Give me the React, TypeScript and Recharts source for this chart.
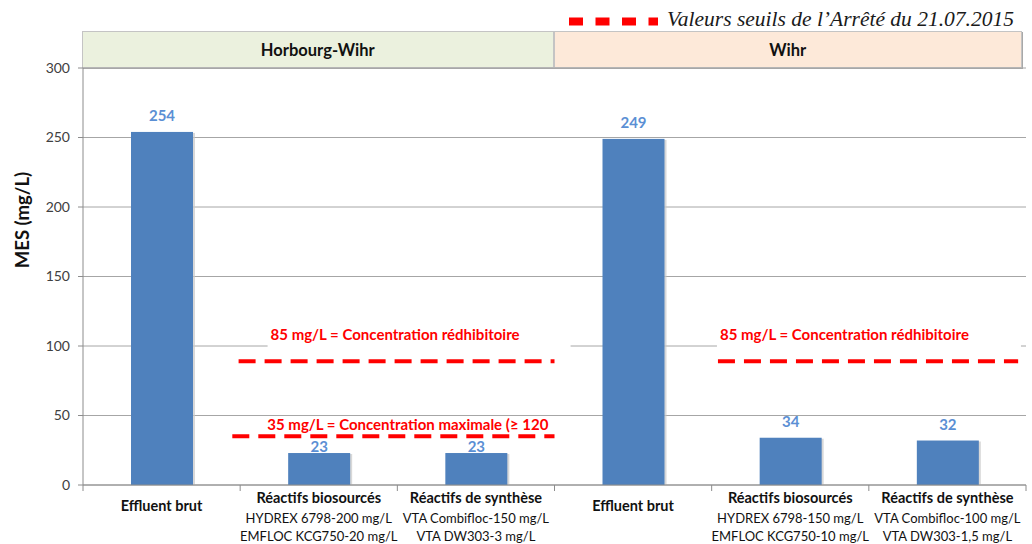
import { BarChart, Bar, XAxis, YAxis, CartesianGrid, ReferenceLine, LabelList } from 'recharts';

// categories and values
const categories = ['Effluent brut', 'Réactifs biosourcés', 'Réactifs de synthèse', 'Effluent brut', 'Réactifs biosourcés', 'Réactifs de synthèse'];
const doseLine1 = ['', 'HYDREX 6798-200 mg/L', 'VTA Combifloc-150 mg/L', '', 'HYDREX 6798-150 mg/L', 'VTA Combifloc-100 mg/L'];
const doseLine2 = ['', 'EMFLOC KCG750-20 mg/L', 'VTA DW303-3 mg/L', '', 'EMFLOC KCG750-10 mg/L', 'VTA DW303-1,5 mg/L'];
const mesValues = [254, 23, 23, 249, 34, 32];
const sites = ['Horbourg-Wihr', 'Wihr'];
const yTicks = [0, 50, 100, 150, 200, 250, 300];

// threshold segments drawn on the figure (extent in category units, 0..6)
const thresholdValues = [89, 89, 35];
const thresholdFrom = [0.99, 4.04, 0.95];
const thresholdTo = [3.0, 5.95, 3.0];
const thresholdLabels = [
  '85 mg/L = Concentration rédhibitoire',
  '85 mg/L = Concentration rédhibitoire',
  '35 mg/L = Concentration maximale (≥ 120',
];
const legendText = 'Valeurs seuils de l’Arrêté du 21.07.2015';

const W = 1032;
const H = 544;
const PLOT_LEFT = 83;
const PLOT_RIGHT = 6;
const PLOT_TOP = 68;
const X_AXIS_H = 59;
const BAND = (W - PLOT_LEFT - PLOT_RIGHT) / categories.length;
const FONT = 'Lato, "Open Sans", sans-serif';

const data = categories.map((name, i) => ({ i, name, mes: mesValues[i] }));

// pixel tweaks for the annotation texts (styling, not data)
const labelDx = [32, 2, 35];
const labelDy = [-21, -21, -6];
const labelMask = [[29, 303], [-1, 304], null];
// the two small bars had their labels pulled down onto the bar
const LOW_LABELS = new Set([1, 2]);

const CategoryTick = (props: any) => {
  const { x, y, payload } = props;
  const i = payload.value as number;
  const left = x - BAND / 2;
  const ticks = [<line key="l" x1={left} x2={left} y1={y} y2={y + 6} stroke="#8c8c8c" />];
  if (i === categories.length - 1) {
    ticks.push(<line key="r" x1={left + BAND} x2={left + BAND} y1={y} y2={y + 6} stroke="#8c8c8c" />);
  }
  const hasDose = doseLine1[i] !== '';
  return (
    <g>
      {ticks}
      <text x={x} y={y + (hasDose ? 18 : 26)} textAnchor="middle" fontFamily={FONT} fontSize={14.5} fontWeight={700} fill="#111">
        {categories[i]}
      </text>
      {hasDose && (
        <text x={x} y={y + 38} textAnchor="middle" fontFamily={FONT} fontSize={13} fill="#111">
          {doseLine1[i]}
        </text>
      )}
      {hasDose && (
        <text x={x} y={y + 56} textAnchor="middle" fontFamily={FONT} fontSize={13} fill="#111">
          {doseLine2[i]}
        </text>
      )}
    </g>
  );
};

const ShadowBar = (props: any) => {
  const { x, y, width, height } = props;
  return (
    <g>
      <rect x={x + 2} y={y + 1} width={width} height={height - 1} fill="#c8c8c8" opacity={0.7} />
      <rect x={x} y={y} width={width} height={height} fill="#4F81BD" />
    </g>
  );
};

const ValueLabel = (props: any) => {
  const { x, y, width, value, index } = props;
  const gap = LOW_LABELS.has(index) ? 1 : 11;
  return (
    <text x={x + width / 2} y={y - gap} textAnchor="middle" fontFamily={FONT} fontSize={15} fontWeight={700} fill="#5B8FD4">
      {value}
    </text>
  );
};

// horizontal reference line cut down to the part of the plot it spans in the figure
const thresholdShape = (k: number) => (props: any) => {
  const { x1, x2, y1 } = props;
  const band = (x2 - x1) / categories.length;
  const sx = x1 + thresholdFrom[k] * band;
  const ex = x1 + thresholdTo[k] * band;
  const tx = sx + labelDx[k];
  const ty = y1 + labelDy[k];
  const mask = labelMask[k];
  return (
    <g>
      <line x1={sx} x2={ex} y1={y1} y2={y1} stroke="#FF0000" strokeWidth={4} strokeDasharray="17 9" />
      {mask && <rect x={sx + mask[0]} y={ty - 15} width={mask[1]} height={22} fill="#fff" />}
      <text x={tx} y={ty} fontFamily={FONT} fontSize={15} fontWeight={700} fill="#FF0000">
        {thresholdLabels[k]}
      </text>
    </g>
  );
};

const headerStyle = (bg: string, left: number, width: number): React.CSSProperties => ({
  position: 'absolute',
  left,
  top: 31,
  width,
  height: 37,
  boxSizing: 'border-box',
  background: bg,
  border: '1px solid #C4C4C4',
  boxShadow: '1px 1px 0 #A8A8A8',
  display: 'flex',
  alignItems: 'center',
  justifyContent: 'center',
  fontFamily: FONT,
  fontWeight: 700,
  fontSize: 16.5,
  color: '#111',
});

export default function App() {
  const groupW = (W - PLOT_LEFT - PLOT_RIGHT) / sites.length;
  return (
    <div style={{ position: 'absolute', left: 0, top: 0, width: W, height: H, background: '#fff' }}>
      <div style={headerStyle('#EBF1DE', PLOT_LEFT - 1, groupW)}>{sites[0]}</div>
      <div style={headerStyle('#FDE9D9', PLOT_LEFT - 1 + groupW, groupW - 3)}>{sites[1]}</div>
      <svg style={{ position: 'absolute', left: 0, top: 0 }} width={W} height={30}>
        <line x1={569} x2={658} y1={21.5} y2={21.5} stroke="#FF0000" strokeWidth={8} strokeDasharray="14 12.5" />
        <text x={667} y={26} fontFamily='"Liberation Serif", "Times New Roman", serif' fontStyle="italic" fontSize={21.5} fill="#1a1a1a">
          {legendText}
        </text>
      </svg>
      <div style={{ position: 'absolute', left: 0, top: 0 }}>
        <BarChart
          width={W}
          height={H}
          data={data}
          margin={{ top: PLOT_TOP, right: PLOT_RIGHT, bottom: 0, left: 0 }}
          barSize={62}
        >
          <CartesianGrid vertical={false} stroke="#A6A6A6" />
          <XAxis
            dataKey="i"
            type="category"
            height={X_AXIS_H}
            axisLine={{ stroke: '#8c8c8c' }}
            tickLine={false}
            tickSize={0}
            tickMargin={0}
            interval={0}
            tick={<CategoryTick />}
          />
          <YAxis
            width={PLOT_LEFT}
            domain={[0, 300]}
            ticks={yTicks}
            interval={0}
            axisLine={{ stroke: '#8c8c8c' }}
            tickLine={{ stroke: '#8c8c8c' }}
            tickSize={5}
            tickMargin={8}
            tick={{ fontFamily: FONT, fontSize: 14, fill: '#404040' }}
            label={() => (
              <text
                x={29}
                y={220}
                transform="rotate(-90 29 220)"
                textAnchor="middle"
                fontFamily={FONT}
                fontSize={18.5}
                fontWeight={700}
                fill="#111"
              >
                MES (mg/L)
              </text>
            )}
          />
          <Bar dataKey="mes" shape={<ShadowBar />} isAnimationActive={false}>
            <LabelList dataKey="mes" content={<ValueLabel />} />
          </Bar>
          {thresholdValues.map((v, k) => (
            <ReferenceLine key={k} y={v} ifOverflow="visible" shape={thresholdShape(k)} />
          ))}
        </BarChart>
      </div>
    </div>
  );
}
